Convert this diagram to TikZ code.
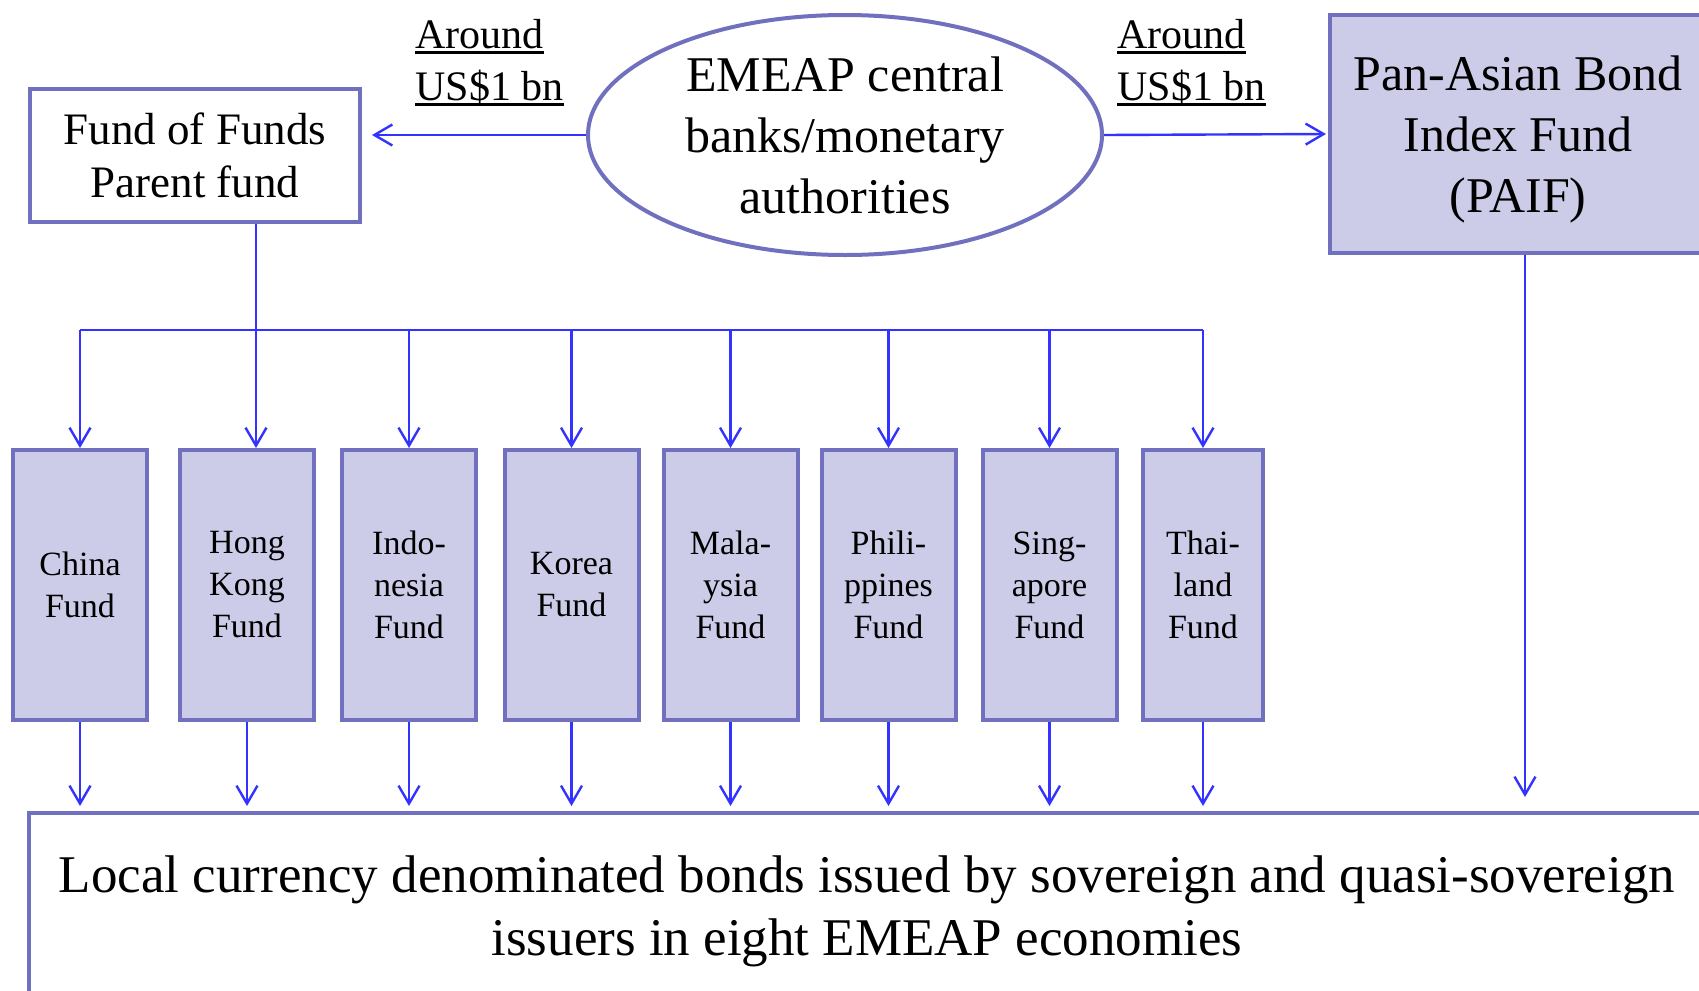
\documentclass[tikz,border=0pt]{standalone}
\usepackage{fontspec}
\setmainfont{Liberation Serif}
\usetikzlibrary{shapes,arrows.meta}
\newcommand{\undl}[1]{\leavevmode\setbox0\hbox{#1}\rlap{\rule[-2.8pt]{\wd0}{1.4pt}}\box0}
\definecolor{boxline}{RGB}{112,112,190}
\definecolor{boxfill}{RGB}{204,204,232}
\definecolor{flow}{RGB}{51,51,255}
\tikzstyle{every picture}=[x=0.5pt, y=-0.5pt,%
	>={Straight Barb[length=9pt,width=10.5pt]}]
\tikzstyle{fund}=[draw=boxline, line width=2pt, fill=boxfill, inner sep=0pt,%
	minimum width=67pt, minimum height=135pt, align=center,%
	font=\fontsize{17}{21}\selectfont]
\tikzstyle{bank}=[draw=boxline, line width=2pt, ellipse, inner sep=0pt,%
	minimum width=257pt, minimum height=120pt, align=center,%
	font=\fontsize{25}{30.5}\selectfont]
\tikzstyle{parent}=[draw=boxline, line width=2pt, inner sep=0pt,%
	minimum width=165pt, minimum height=66.5pt, align=center,%
	font=\fontsize{22.5}{26.5}\selectfont]
\tikzstyle{index}=[draw=boxline, line width=2pt, fill=boxfill, inner sep=0pt,%
	minimum width=188pt, minimum height=119pt, align=center, text depth=0pt,%
	font=\fontsize{25}{30.5}\selectfont]
\tikzstyle{bonds}=[draw=boxline, line width=2pt, inner sep=0pt,%
	minimum width=838pt, minimum height=98pt, align=center,%
	font=\fontsize{26.5}{31.5}\selectfont]
\tikzstyle{amount}=[anchor=north west, inner sep=0pt, align=left,%
	font=\fontsize{21}{26}\selectfont]
\tikzstyle{flowline}=[draw=flow, line width=1.2pt]

\begin{document}
\begin{tikzpicture}
	\useasboundingbox (0,0) rectangle (1699,991);
	\node[bank] (emeap) at (845,135) {EMEAP central\\banks/monetary\\authorities};
	\node[parent] (fof) at (195,155.5) {Fund of Funds\\Parent fund};
	\node[index] (paif) at (1518,134) {Pan-Asian Bond\\Index Fund\\(PAIF)};
	\node[amount] (left) at (415,19) {\undl{Around}\\\undl{US\$1 bn}};
	\node[amount] (right) at (1117,19) {\undl{Around}\\\undl{US\$1 bn}};
	\node[fund] (china) at (80,585) {China\\Fund};
	\node[fund] (hk) at (247,585) {Hong\\Kong\\Fund};
	\node[fund] (indo) at (409,585) {Indo-\\nesia\\Fund};
	\node[fund] (korea) at (571.5,585) {Korea\\Fund};
	\node[fund] (malay) at (730.5,585) {Mala-\\ysia\\Fund};
	\node[fund] (phil) at (888.5,585) {Phili-\\ppines\\Fund};
	\node[fund] (sing) at (1049.5,585) {Sing-\\apore\\Fund};
	\node[fund, minimum width=60pt] (thai) at (1203,585) {Thai-\\land\\Fund};
	\node[bonds] (local) at (867,911) {Local currency denominated bonds issued by sovereign and quasi-sovereign\\issuers in eight EMEAP economies};
	\coordinate (bus) at (256,330);

	\draw[flowline,->,shorten >=5pt] (emeap.west) -- (emeap.west -| fof.east);
	\draw[flowline,->,shorten >=1pt] (emeap.east) -- (paif.west);
	\draw[flowline,->] (fof.south -| bus) -- (bus |- hk.north);
	\draw[flowline] (bus -| china.north) -- (bus -| thai.north);
	\draw[flowline,->] (bus -| china.north) -- (china.north);
	\draw[flowline,->] (bus -| indo.north) -- (indo.north);
	\draw[flowline,->] (bus -| korea.north) -- (korea.north);
	\draw[flowline,->] (bus -| malay.north) -- (malay.north);
	\draw[flowline,->] (bus -| phil.north) -- (phil.north);
	\draw[flowline,->] (bus -| sing.north) -- (sing.north);
	\draw[flowline,->] (bus -| thai.north) -- (thai.north);
	\draw[flowline,->,shorten >=2.5pt] (china.south) -- (china.south |- local.north);
	\draw[flowline,->,shorten >=2.5pt] (hk.south) -- (hk.south |- local.north);
	\draw[flowline,->,shorten >=2.5pt] (indo.south) -- (indo.south |- local.north);
	\draw[flowline,->,shorten >=2.5pt] (korea.south) -- (korea.south |- local.north);
	\draw[flowline,->,shorten >=2.5pt] (malay.south) -- (malay.south |- local.north);
	\draw[flowline,->,shorten >=2.5pt] (phil.south) -- (phil.south |- local.north);
	\draw[flowline,->,shorten >=2.5pt] (sing.south) -- (sing.south |- local.north);
	\draw[flowline,->,shorten >=2.5pt] (thai.south) -- (thai.south |- local.north);
	\draw[flowline,->,shorten >=7pt] ([xshift=3.5pt]paif.south) -- ([xshift=3.5pt]paif.south |- local.north);
\end{tikzpicture}
\end{document}
